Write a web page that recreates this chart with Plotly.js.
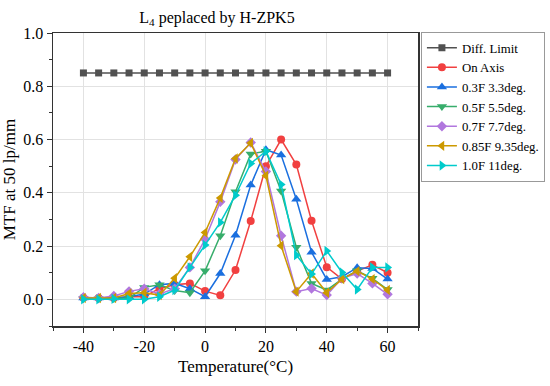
<!DOCTYPE html>
<html>
<head>
<meta charset="utf-8">
<script src="https://cdn.plot.ly/plotly-3.0.1.min.js"></script>
<style>html,body{margin:0;padding:0;background:#fff;}#chart{width:550px;height:386px;}</style>
</head>
<body>
<div id="chart"></div>
<script>
const temperature = [-40,-35,-30,-25,-20,-15,-10,-5,0,5,10,15,20,25,30,35,40,45,50,55,60];
const diffLimit = [0.85,0.85,0.85,0.85,0.85,0.85,0.85,0.85,0.85,0.85,0.85,0.85,0.85,0.85,0.85,0.85,0.85,0.85,0.85,0.85,0.85];
const onAxis   = [0.006,0.005,0.005,0.01,0.01,0.041,0.055,0.06,0.031,0.015,0.11,0.294,0.50,0.60,0.506,0.295,0.121,0.076,0.106,0.13,0.10];
const f03      = [0.005,0.005,0.005,0.01,0.02,0.055,0.06,0.04,0.01,0.097,0.241,0.429,0.562,0.542,0.376,0.177,0.075,0.085,0.119,0.116,0.076];
const f05      = [0.003,0.002,0.003,0.005,0.045,0.055,0.033,0.025,0.107,0.239,0.404,0.546,0.556,0.407,0.196,0.06,0.035,0.076,0.107,0.079,0.037];
const f07      = [0.008,0.005,0.013,0.03,0.04,0.02,0.04,0.12,0.226,0.366,0.525,0.589,0.48,0.239,0.029,0.041,0.016,0.079,0.097,0.06,0.019];
const f085     = [0.005,0.005,0.005,0.022,0.025,0.016,0.079,0.16,0.251,0.381,0.529,0.587,0.464,0.201,0.029,0.097,0.025,0.076,0.106,0.076,0.035];
const f10      = [0.0,0.0,0.002,0.0,0.0,0.01,0.035,0.12,0.204,0.289,0.391,0.51,0.556,0.431,0.166,0.095,0.182,0.101,0.037,0.12,0.12];

const xTickVals = [-40,-20,0,20,40,60];
const xTickText = ['-40','-20','0','20','40','60'];
const yTickVals = [0,0.2,0.4,0.6,0.8,1.0];
const yTickText = ['0.0','0.2','0.4','0.6','0.8','1.0'];

const seriesNames = ['Diff. Limit','On Axis','0.3F 3.3deg.','0.5F 5.5deg.','0.7F 7.7deg.','0.85F 9.35deg.','1.0F 11deg.'];
const seriesData = [diffLimit, onAxis, f03, f05, f07, f085, f10];
const colors = ['#515151','#F14040','#1A6FDF','#37AD6B','#B177DE','#CC9900','#00CBCC'];
const symbols = ['square','circle','triangle-up','triangle-down','diamond','triangle-left','triangle-right'];
const sizes = [7,8,9,9,8,9,9];

const traces = seriesData.map((d,i)=>({
  x: temperature, y: d, name: seriesNames[i], type:'scatter', mode:'lines+markers',
  line:{color:colors[i], width:1.5},
  marker:{symbol:symbols[i], color:colors[i], size:sizes[i], line:{width:0}}
}));

const FAM = 'Liberation Serif, Times New Roman, serif';
const f = (s)=>({family:FAM, size:s, color:'#000'});
const layout = {
  width:550, height:386, autosize:false,
  margin:{l:53, r:132, t:33, b:60, pad:0, autoexpand:false},
  paper_bgcolor:'#fff', plot_bgcolor:'#fff',
  font: f(16),
  title:{text:'L<sub>4</sub> peplaced by H-ZPK5', x:217/550, xref:'container', xanchor:'center', y:1-17/386, yref:'container', yanchor:'middle', font:f(16)},
  xaxis:{
    range:[-50,70], tickmode:'array', tickvals:xTickVals, ticktext:xTickText,
    ticks:'outside', ticklen:5, tickwidth:1, tickcolor:'#333',
    minor:{tickmode:'linear', tick0:0, dtick:10, ticks:'outside', ticklen:3, tickcolor:'#333', showgrid:false},
    showline:true, linecolor:'#333', linewidth:1.5, mirror:true,
    showgrid:true, gridcolor:'#e2e2e2', gridwidth:1, zeroline:false,
    tickfont:f(16),
    title:{text:'Temperature(°C)', font:f(17), standoff:6}
  },
  yaxis:{
    range:[-0.1,1.0], tickmode:'array', tickvals:yTickVals, ticktext:yTickText,
    ticks:'outside', ticklen:5, tickwidth:1, tickcolor:'#333',
    minor:{tickmode:'linear', tick0:0, dtick:0.1, ticks:'outside', ticklen:3, tickcolor:'#333', showgrid:false},
    showline:true, linecolor:'#333', linewidth:1.5, mirror:true,
    showgrid:true, gridcolor:'#e2e2e2', gridwidth:1, zeroline:false,
    tickfont:f(16),
    title:{text:'MTF at 50 lp/mm', font:f(17), standoff:4}
  },
  legend:{x:1.008, y:1.004, xanchor:'left', yanchor:'top', bgcolor:'#fff', bordercolor:'#999', borderwidth:1,
    font:f(12.8), itemwidth:30, tracegroupgap:0},
  showlegend:true
};
Plotly.newPlot('chart', traces, layout, {displayModeBar:false, staticPlot:true});
</script>
</body>
</html>
